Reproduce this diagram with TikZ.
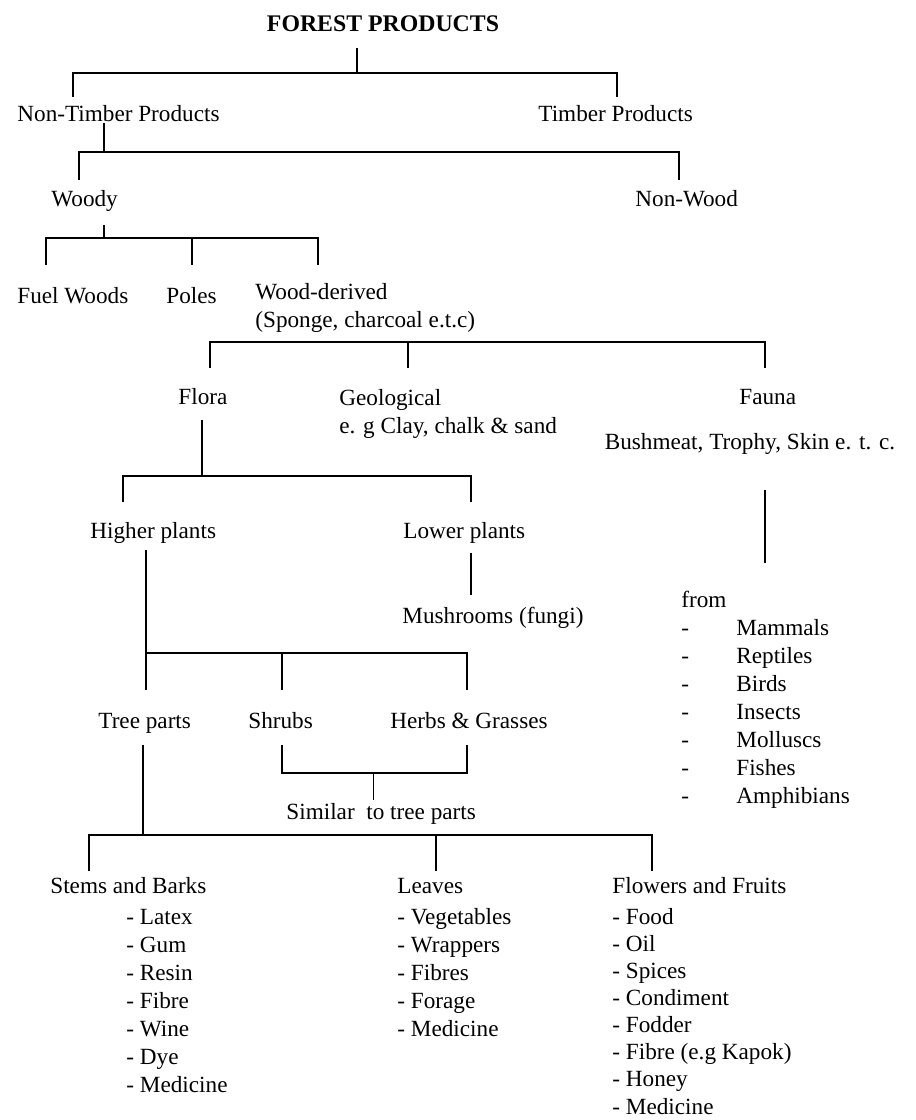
\documentclass[tikz,border=0pt]{standalone}
\usepackage{fontspec}
\setmainfont{Liberation Serif}
\usetikzlibrary{positioning}

\begin{document}
\begin{tikzpicture}[x=0.5pt, y=-0.5pt,
  every node/.style={inner sep=0pt, font=\fontsize{11.6}{14}\selectfont},
  lbl/.style={anchor=mid west},
  lst/.style={anchor=north west, align=left},
  tree/.style={line width=1pt}]
  \useasboundingbox (0,0) rectangle (916,1120);

  % labels, top to bottom
  \node[anchor=mid, font=\fontsize{11.9}{14}\selectfont\bfseries] (fp) at (383,27) {FOREST PRODUCTS};
  \node[lbl] (ntp) at (17,117) {Non-Timber Products};
  \node[lbl] (tp) at (538,117) {Timber Products};
  \node[lbl] (woody) at (51,202) {Woody};
  \node[lbl] (nw) at (635,202) {Non-Wood};
  \node[lbl] (fuel) at (17,299) {Fuel Woods};
  \node[lbl] (poles) at (166,299) {Poles};
  \node[lst] (wd) at (255,279.4) {\strut Wood-derived\\(Sponge, charcoal e.t.c)};
  \node[lbl] (flora) at (178,400) {Flora};
  \node[lst] (geo) at (339,385.4) {\strut Geological\\e. g Clay, chalk \& sand};
  \node[lbl] (fauna) at (739,400) {Fauna};
  \node[anchor=mid] (bush) at (750,445) {Bushmeat, Trophy, Skin e. t. c.};
  \node[lbl] (hp) at (90,534) {Higher plants};
  \node[lbl] (lp) at (403,534) {Lower plants};
  \node[lbl] (mush) at (402,619) {Mushrooms (fungi)};
  \node[lst] (from) at (681,587.4) {\strut from\\
    \makebox[27.5pt][l]{-}Mammals\\
    \makebox[27.5pt][l]{-}Reptiles\\
    \makebox[27.5pt][l]{-}Birds\\
    \makebox[27.5pt][l]{-}Insects\\
    \makebox[27.5pt][l]{-}Molluscs\\
    \makebox[27.5pt][l]{-}Fishes\\
    \makebox[27.5pt][l]{-}Amphibians};
  \node[lbl] (trp) at (98,724) {Tree parts};
  \node[lbl] (shr) at (248,724) {Shrubs};
  \node[lbl] (hg) at (390,724) {Herbs \& Grasses};
  \node[lbl] (sim) at (286,815) {Similar~ to tree parts};
  \node[lbl] (stm) at (50,889) {Stems and Barks};
  \node[lbl] (lv) at (397,889) {Leaves};
  \node[lbl] (ff) at (612,889) {Flowers and Fruits};
  \node[lst] (stml) at (126,904.4) {\strut- Latex\\- Gum\\- Resin\\- Fibre\\- Wine\\- Dye\\- Medicine};
  \node[lst] (lvl) at (397,904.4) {\strut- Vegetables\\- Wrappers\\- Fibres\\- Forage\\- Medicine};
  \node[lst, font=\fontsize{11.6}{13.55}\selectfont] (ffl) at (612,905) {\strut- Food\\- Oil\\- Spices\\- Condiment\\- Fodder\\- Fibre (e.g Kapok)\\- Honey\\- Medicine};

  % line ends and hubs
  \coordinate (fp-b) at (357,48);   \coordinate (h1) at (357,73);
  \coordinate (ntp-t) at (73,97);   \coordinate (tp-t) at (617,97);
  \coordinate (ntp-b) at (104,123); \coordinate (h2) at (104,152);
  \coordinate (woody-t) at (79,180); \coordinate (nw-t) at (679,180);
  \coordinate (woody-b) at (104,225); \coordinate (h3) at (104,238);
  \coordinate (fuel-t) at (46,265); \coordinate (poles-t) at (192,265); \coordinate (wd-t) at (318,265);
  \coordinate (h4) at (408,342);
  \coordinate (flora-t) at (210,368); \coordinate (geo-t) at (408,368); \coordinate (fauna-t) at (765,368);
  \coordinate (flora-b) at (201.5,420); \coordinate (h5) at (201.5,476);
  \coordinate (hp-t) at (123,502); \coordinate (lp-t) at (471,502);
  \coordinate (lp-b) at (471,553); \coordinate (mush-t) at (471,595);
  \coordinate (bush-b) at (765,490); \coordinate (from-t) at (765,563);
  \coordinate (hp-b) at (146,550); \coordinate (h8) at (146,653);
  \coordinate (trp-t) at (146,690); \coordinate (shr-t) at (282,690); \coordinate (hg-t) at (467,690);
  \coordinate (shr-b) at (282,745); \coordinate (hg-b) at (467,745);
  \coordinate (h10) at (373,773); \coordinate (sim-t) at (373,800);
  \coordinate (trp-b) at (143,745); \coordinate (h9) at (143,835);
  \coordinate (stm-t) at (89,871); \coordinate (lv-t) at (436,871); \coordinate (ff-t) at (652,871);

  % connectors
  \draw[tree] (fp-b) -- (h1);
  \draw[tree] (ntp-t) |- (h1) -| (tp-t);
  \draw[tree] (ntp-b) -- (h2);
  \draw[tree] (woody-t) |- (h2) -| (nw-t);
  \draw[tree] (woody-b) -- (h3);
  \draw[tree] (fuel-t) |- (h3) -| (wd-t);
  \draw[tree] (poles-t |- h3) -- (poles-t);
  \draw[tree] (flora-t) |- (h4) -| (fauna-t);
  \draw[tree] (h4) -- (geo-t);
  \draw[tree] (flora-b) -- (h5);
  \draw[tree] (hp-t) |- (h5) -| (lp-t);
  \draw[tree] (lp-b) -- (mush-t);
  \draw[tree] (bush-b) -- (from-t);
  \draw[tree] (hp-b) -- (trp-t);
  \draw[tree] (h8) -| (hg-t);
  \draw[tree] (shr-t |- h8) -- (shr-t);
  \draw[tree] (shr-b) |- (h10) -| (hg-b);
  \draw[line width=0.5pt] (h10) -- (sim-t);
  \draw[tree] (trp-b) -- (h9);
  \draw[tree] (stm-t) |- (h9) -| (ff-t);
  \draw[tree] (lv-t |- h9) -- (lv-t);
\end{tikzpicture}
\end{document}
